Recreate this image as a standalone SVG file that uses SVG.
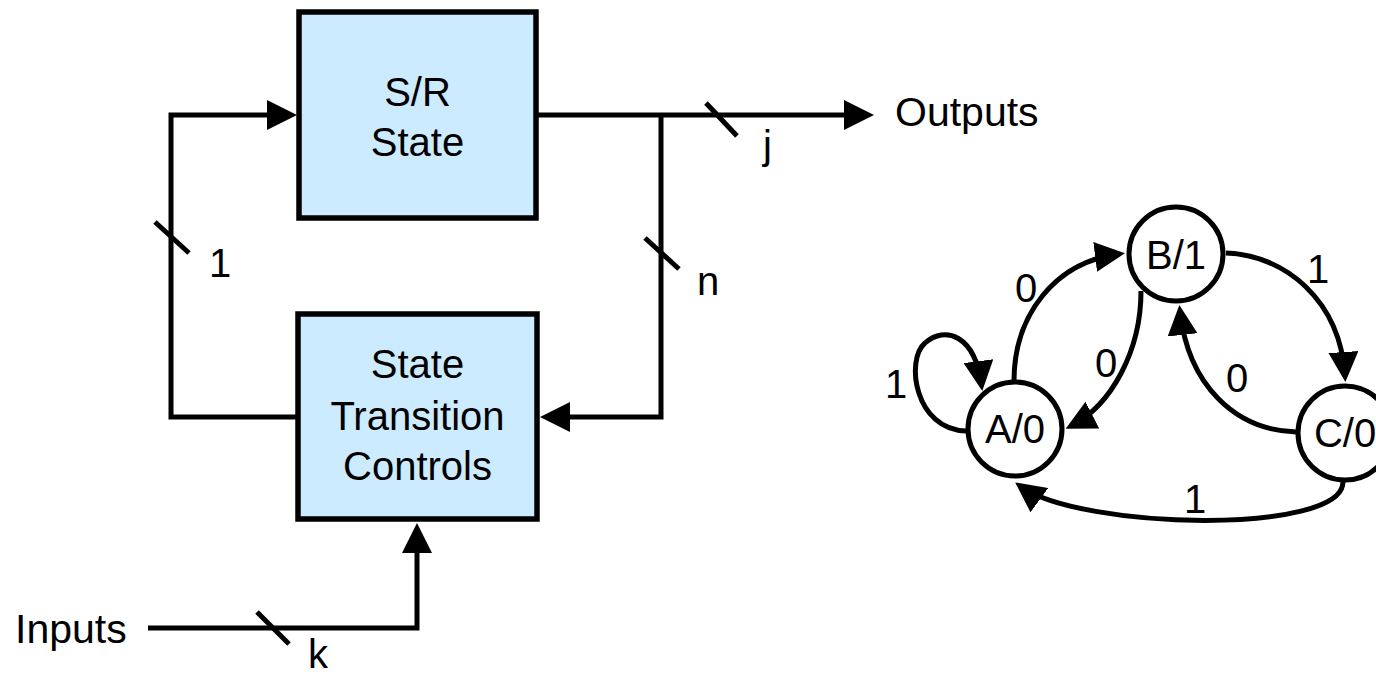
<svg xmlns="http://www.w3.org/2000/svg" width="1376" height="675" viewBox="0 0 1376 675">
<style>
text{font-family:"Liberation Sans",Arial,sans-serif;font-size:40px;fill:#000}
.big{font-size:41px}
.box{fill:#CCEBFF;stroke:#000;stroke-width:5.5}
.st{fill:#fff;stroke:#000;stroke-width:5}
.w{fill:none;stroke:#000;stroke-width:5;stroke-linejoin:miter}
.c{text-anchor:middle}
</style>
<defs>
<marker id="arr" markerUnits="userSpaceOnUse" markerWidth="30" markerHeight="30" viewBox="0 0 30 30" refX="24" refY="15" orient="auto"><path d="M0,0 L30,15 L0,30 z" fill="#000"/></marker>
</defs>
<rect width="1376" height="675" fill="#fff"/>
<g id="connectors">
<path class="w" d="M296,417 H171 V115 H291" marker-end="url(#arr)"/>
<path class="w" d="M538,115 H868" marker-end="url(#arr)"/>
<path class="w" d="M661,115 V417 H546" marker-end="url(#arr)"/>
<path class="w" d="M148,628 H417 V529" marker-end="url(#arr)"/>
<line class="w" x1="155" y1="222" x2="189" y2="253"/>
<line class="w" x1="645" y1="238" x2="679" y2="269"/>
<line class="w" x1="706" y1="103" x2="737" y2="136"/>
<line class="w" x1="257" y1="612" x2="289" y2="644"/>
<path class="w" d="M1014,381 C1014,315 1055,262 1119,254" marker-end="url(#arr)"/>
<path class="w" d="M1141,291 C1141,350 1112,405 1071,426" marker-end="url(#arr)"/>
<path class="w" d="M1226,253 C1285,255 1340,300 1345,376" marker-end="url(#arr)"/>
<path class="w" d="M1296,432 C1235,430 1188,385 1180,311" marker-end="url(#arr)"/>
<path class="w" d="M1343,482 C1343,535 1080,530 1020,486" marker-end="url(#arr)"/>
<path class="w" d="M966,431 C915,430 905,360 925,343 C945,325 975,335 981.5,385" marker-end="url(#arr)"/>
</g>
<g id="labels">
<text class="c" x="220" y="277">1</text>
<text x="697" y="295">n</text>
<text x="763" y="159">j</text>
<text x="308" y="668">k</text>
<text class="big" x="15" y="643">Inputs</text>
<text class="big" x="895" y="126">Outputs</text>
<text class="c" x="1026" y="302">0</text>
<text class="c" x="1106" y="377">0</text>
<text class="c" x="1318" y="283">1</text>
<text class="c" x="1237" y="392">0</text>
<text class="c" x="1195" y="513">1</text>
<text class="c" x="896" y="398">1</text>
</g>
<g id="sr-state">
<rect class="box" x="299" y="12" width="237" height="206"/>
<text class="c" x="417.5" y="106">S/R</text>
<text class="c" x="417.5" y="156">State</text>
</g>
<g id="transition-controls">
<rect class="box" x="298" y="314" width="239" height="205"/>
<text class="c" x="417.5" y="378">State</text>
<text class="c" x="417.5" y="430">Transition</text>
<text class="c" x="417.5" y="480">Controls</text>
</g>
<g id="state-a">
<circle class="st" cx="1015" cy="429" r="47"/>
<text class="c" x="1015" y="443">A/0</text>
</g>
<g id="state-b">
<circle class="st" cx="1176" cy="254" r="47"/>
<text class="c" x="1176" y="269">B/1</text>
</g>
<g id="state-c">
<circle class="st" cx="1345" cy="433" r="47"/>
<text class="c" x="1345" y="447">C/0</text>
</g>
</svg>
